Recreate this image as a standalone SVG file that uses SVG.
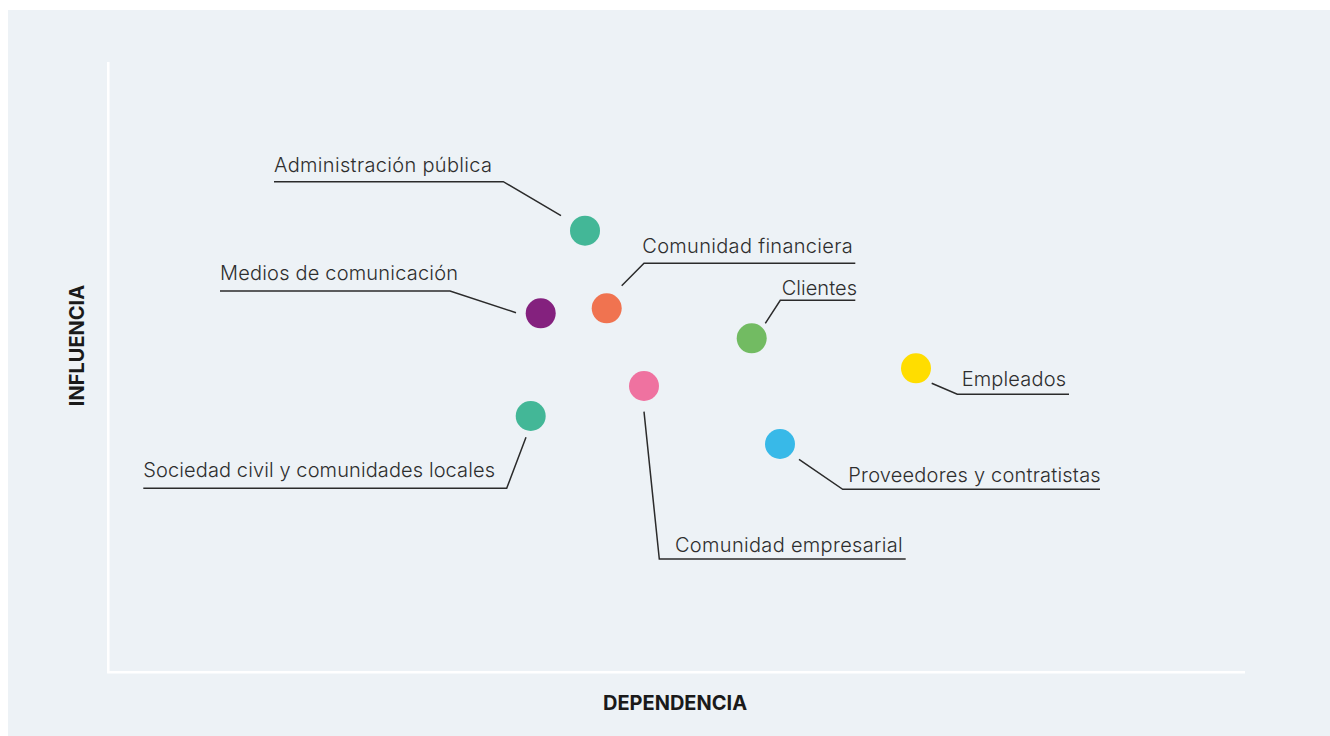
<svg xmlns="http://www.w3.org/2000/svg" width="1330" height="736" viewBox="0 0 1330 736">
<style>
.lbl{font-family:Inter,"Noto Sans","Liberation Sans",sans-serif;font-size:20px;font-weight:300;fill:#2e2e2e}
.ax{font-family:Inter,"Liberation Sans",sans-serif;font-size:20px;font-weight:700;fill:#1a1a1a}
.ld{fill:none;stroke:#2b2b2b;stroke-width:1.5}
.axis{stroke:#ffffff;stroke-width:2.5;fill:none}
</style>
<rect x="0" y="0" width="1330" height="736" fill="#ffffff"/>
<rect x="8" y="10" width="1322" height="726" fill="#edf2f6"/>
<g id="axes">
<path class="axis" d="M108.3 62 V672.3 H1245"/>
<text class="ax" x="675" y="709.5" text-anchor="middle">DEPENDENCIA</text>
<text class="ax" x="0" y="0" text-anchor="middle" transform="translate(84.3 345.5) rotate(-90)">INFLUENCIA</text>
</g>
<g id="connectors">
<polyline class="ld" points="274,181.7 503.3,181.7 561,215.7"/>
<polyline class="ld" points="220,291 450,291 516,312.7"/>
<polyline class="ld" points="855.3,263.3 644,263.3 621.7,285.7"/>
<polyline class="ld" points="855.3,300.3 780.3,300.3 765.3,323.3"/>
<polyline class="ld" points="143.3,488.3 506.7,488.3 526,437.3"/>
<polyline class="ld" points="644,411.7 659.3,559 905.7,559"/>
<polyline class="ld" points="931.7,383.3 957.3,394.3 1069,394.3"/>
<polyline class="ld" points="799,459.3 842.7,489.3 1100,489.3"/>
</g>
<g id="administracion-publica">
<circle cx="585" cy="230.7" r="15" fill="#43b797"/>
<text class="lbl" x="274" y="172.3" textLength="218" lengthAdjust="spacing">Administración pública</text>
</g>
<g id="medios-de-comunicacion">
<circle cx="540.7" cy="313.3" r="15" fill="#84217e"/>
<text class="lbl" x="220" y="280" textLength="238" lengthAdjust="spacing">Medios de comunicación</text>
</g>
<g id="comunidad-financiera">
<circle cx="606.7" cy="308.3" r="15" fill="#f07350"/>
<text class="lbl" x="642.3" y="253.3" textLength="210.4" lengthAdjust="spacing">Comunidad financiera</text>
</g>
<g id="clientes">
<circle cx="751.7" cy="338.3" r="15" fill="#72bb62"/>
<text class="lbl" x="781.7" y="295" textLength="75.3" lengthAdjust="spacing">Clientes</text>
</g>
<g id="sociedad-civil">
<circle cx="530.7" cy="416" r="15" fill="#43b797"/>
<text class="lbl" x="143.3" y="476.7" textLength="351.7" lengthAdjust="spacing">Sociedad civil y comunidades locales</text>
</g>
<g id="comunidad-empresarial">
<circle cx="644" cy="386" r="15" fill="#ef72a0"/>
<text class="lbl" x="675" y="551.7" textLength="227.7" lengthAdjust="spacing">Comunidad empresarial</text>
</g>
<g id="empleados">
<circle cx="916" cy="368.3" r="15" fill="#ffdd00"/>
<text class="lbl" x="961.7" y="386" textLength="104.3" lengthAdjust="spacing">Empleados</text>
</g>
<g id="proveedores">
<circle cx="780" cy="444" r="15" fill="#38b9e8"/>
<text class="lbl" x="848.3" y="482.3" textLength="252.4" lengthAdjust="spacing">Proveedores y contratistas</text>
</g>
</svg>
